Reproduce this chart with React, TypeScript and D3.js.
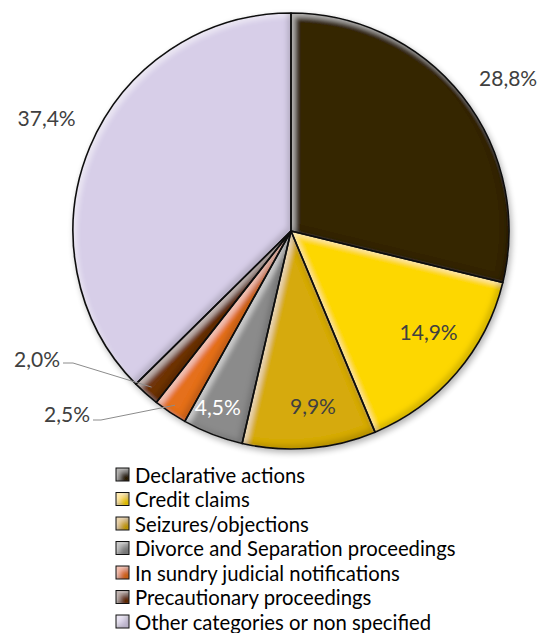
import React from "react";
import * as d3 from "d3";

const categories = [
  "Declarative actions",
  "Credit claims",
  "Seizures/objections",
  "Divorce and Separation proceedings",
  "In sundry judicial notifications",
  "Precautionary proceedings",
  "Other categories or non specified",
];
const values = [28.8, 14.9, 9.9, 4.5, 2.5, 2.0, 37.4];
const labels = ["28,8%", "14,9%", "9,9%", "4,5%", "2,5%", "2,0%", "37,4%"];
const colors = ["#342806", "#FDD705", "#D6AA07", "#8B8B8B", "#E5701C", "#70360F", "#D7CEE8"];
const labelColors = ["#404040", "#404040", "#404040", "#ffffff", "#404040", "#404040", "#404040"];

const W = 538;
const H = 633;
const cx = 291;
const cy = 231;
const R = 218;

// label placement: radius factor + pixel nudge, or manual with leader line
const labelRadius = [1.22, 0.77, 0.81, 0.87, null, null, 1.23];
const labelNudge: [number, number][] = [[8, 11], [10, -9], [7, -1], [-5, -1], [0, 0], [0, 0], [3, -10]];
const manual: Record<number, { tx: number; ty: number; path: [number, number][] }> = {
  4: { tx: 67, ty: 413, path: [[93, 420], [101, 420]] },
  5: { tx: 37, ty: 358, path: [[63, 363], [73, 363]] },
};

export default function App() {
  const pie = d3.pie<number>().sort(null).value((d) => d);
  const arcs = pie(values);
  const arc = d3.arc<d3.PieArcDatum<number>>().innerRadius(0).outerRadius(R);
  const font = "Lato, 'Open Sans', sans-serif";

  return (
    <svg
      width={W}
      height={H}
      style={{ position: "absolute", left: 0, top: 0, background: "#fff" }}
    >
      <defs>
        <filter id="bevel" x="-10%" y="-10%" width="120%" height="120%">
          <feGaussianBlur in="SourceAlpha" stdDeviation="2.5" result="b" />
          <feOffset in="b" dx="4" dy="4" result="bo1" />
          <feComposite in="SourceAlpha" in2="bo1" operator="arithmetic" k1="0" k2="1" k3="-1" k4="0" result="hl" />
          <feFlood floodColor="#ffffff" floodOpacity="0.45" />
          <feComposite in2="hl" operator="in" result="hlc" />
          <feOffset in="b" dx="-4" dy="-4" result="bo2" />
          <feComposite in="SourceAlpha" in2="bo2" operator="arithmetic" k1="0" k2="1" k3="-1" k4="0" result="sh" />
          <feFlood floodColor="#000000" floodOpacity="0.3" />
          <feComposite in2="sh" operator="in" result="shc" />
          <feMerge>
            <feMergeNode in="SourceGraphic" />
            <feMergeNode in="hlc" />
            <feMergeNode in="shc" />
          </feMerge>
        </filter>
        <filter id="shadow" x="-10%" y="-10%" width="130%" height="130%">
          <feGaussianBlur in="SourceAlpha" stdDeviation="3" />
          <feOffset dx="2" dy="3" result="ob" />
          <feComponentTransfer>
            <feFuncA type="linear" slope="0.3" />
          </feComponentTransfer>
          <feMerge>
            <feMergeNode />
            <feMergeNode in="SourceGraphic" />
          </feMerge>
        </filter>
      </defs>

      <g transform={`translate(${cx},${cy})`} filter="url(#shadow)">
        {arcs.map((a, i) => (
          <path
            key={i}
            d={arc(a) || ""}
            fill={colors[i]}
            filter="url(#bevel)"
          />
        ))}
        {arcs.map((a, i) => (
          <path
            key={"o" + i}
            d={arc(a) || ""}
            fill="none"
            stroke="#111"
            strokeWidth={1.6}
            strokeLinejoin="round"
          />
        ))}
      </g>

      {/* labels */}
      <g fontFamily={font} fontSize={21}>
        {arcs.map((a, i) => {
          const rf = labelRadius[i];
          if (rf != null) {
            const la = d3.arc<d3.PieArcDatum<number>>().innerRadius(R * rf).outerRadius(R * rf);
            const [x, y] = la.centroid(a);
            return (
              <text
                key={i}
                x={cx + x + labelNudge[i][0]}
                y={cy + y + labelNudge[i][1]}
                textAnchor="middle"
                dominantBaseline="central"
                fill={labelColors[i]}
              >
                {labels[i]}
              </text>
            );
          }
          const m = manual[i];
          const ea = d3.arc<d3.PieArcDatum<number>>().innerRadius(R * 0.96).outerRadius(R * 0.96);
          const [ex, ey] = ea.centroid(a);
          const pts = [...m.path, [cx + ex, cy + ey] as [number, number]];
          return (
            <g key={i}>
              <polyline
                points={pts.map((p) => p.join(",")).join(" ")}
                fill="none"
                stroke="#8c8c8c"
                strokeWidth={1}
              />
              <text
                x={m.tx}
                y={m.ty}
                textAnchor="middle"
                dominantBaseline="central"
                fill={labelColors[i]}
              >
                {labels[i]}
              </text>
            </g>
          );
        })}
      </g>

      {/* legend */}
      <g fontFamily={font} fontSize={20.3} fill="#000">
        {categories.map((c, i) => {
          const y = 474.5 + i * 24.5;
          return (
            <g key={c}>
              <rect
                x={116}
                y={y - 6.5}
                width={13}
                height={13}
                fill={colors[i]}
                filter="url(#bevel)"
              />
              <rect x={116} y={y - 6.5} width={13} height={13} fill="none" stroke="#111" strokeWidth={1} />
              <text x={135} y={y} dominantBaseline="central">
                {c}
              </text>
            </g>
          );
        })}
      </g>
    </svg>
  );
}
